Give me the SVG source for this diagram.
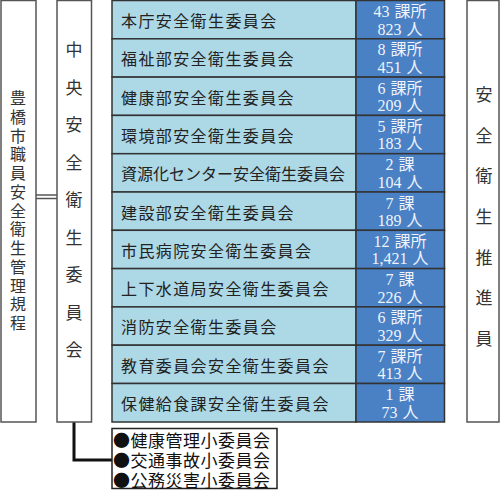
<svg xmlns="http://www.w3.org/2000/svg" width="500" height="490" viewBox="0 0 500 490">
<style>
.box{fill:#fff;stroke:#555;stroke-width:1.5}
.vt{font-family:"Noto Sans CJK JP",sans-serif;font-size:17px;fill:#333;text-anchor:middle;dominant-baseline:central}
.vs{font-size:16px}
.cl{fill:#add8e6;stroke:#333;stroke-width:1.5}
.cb{fill:#4a80c4;stroke:#333;stroke-width:1.5}
.tl{font-family:"Noto Sans CJK JP",sans-serif;font-size:16px;fill:#222;letter-spacing:1.4px;dominant-baseline:central}
.tb{font-family:"Liberation Serif","Noto Sans CJK JP",serif;font-size:16px;fill:#f0f4fa;text-anchor:middle;dominant-baseline:central;word-spacing:1px}
.sub{font-family:"Noto Sans CJK JP",sans-serif;font-size:17px;fill:#111;letter-spacing:0.5px;dominant-baseline:central}
</style>
<g id="connectors">
<line x1="36" y1="195" x2="57" y2="195" stroke="#555" stroke-width="1.5"/>
<line x1="36" y1="198.5" x2="57" y2="198.5" stroke="#555" stroke-width="1.5"/>
<polyline points="74,422 74,460 112,460" fill="none" stroke="#111" stroke-width="3"/>
</g>
<g id="regulation">
<rect class="box" x="1" y="0.5" width="35" height="421.5"/>
<text class="vt vs"><tspan x="18" y="97">豊</tspan><tspan x="18" y="115.75">橋</tspan><tspan x="18" y="134.5">市</tspan><tspan x="18" y="153.25">職</tspan><tspan x="18" y="172">員</tspan><tspan x="18" y="190.75">安</tspan><tspan x="18" y="209.5">全</tspan><tspan x="18" y="228.25">衛</tspan><tspan x="18" y="247">生</tspan><tspan x="18" y="265.75">管</tspan><tspan x="18" y="284.5">理</tspan><tspan x="18" y="303.25">規</tspan><tspan x="18" y="322">程</tspan></text>
</g>
<g id="central">
<rect class="box" x="57" y="0.5" width="34.5" height="421.5"/>
<text class="vt"><tspan x="74" y="48">中</tspan><tspan x="74" y="85.5">央</tspan><tspan x="74" y="123">安</tspan><tspan x="74" y="160.5">全</tspan><tspan x="74" y="198">衛</tspan><tspan x="74" y="235.5">生</tspan><tspan x="74" y="273">委</tspan><tspan x="74" y="310.5">員</tspan><tspan x="74" y="348">会</tspan></text>
</g>
<g id="promoters">
<rect class="box" x="467" y="0.5" width="32" height="421.5"/>
<text class="vt"><tspan x="484" y="93">安</tspan><tspan x="484" y="133.7">全</tspan><tspan x="484" y="174.3">衛</tspan><tspan x="484" y="215">生</tspan><tspan x="484" y="255.7">推</tspan><tspan x="484" y="296.3">進</tspan><tspan x="484" y="337">員</tspan></text>
</g>
<g id="r1"><rect class="cl" x="112" y="0.5" width="244" height="38.3"/><rect class="cb" x="356" y="0.5" width="88.5" height="38.3"/><text class="tl" x="121" y="20">本庁安全衛生委員会</text><text class="tb" x="400" y="11.5">43 課所</text><text class="tb" x="400" y="29">823 人</text></g>
<g id="r2"><rect class="cl" x="112" y="38.8" width="244" height="38.3"/><rect class="cb" x="356" y="38.8" width="88.5" height="38.3"/><text class="tl" x="121" y="58.3">福祉部安全衛生委員会</text><text class="tb" x="400" y="49.8">8 課所</text><text class="tb" x="400" y="67.3">451 人</text></g>
<g id="r3"><rect class="cl" x="112" y="77.1" width="244" height="38.3"/><rect class="cb" x="356" y="77.1" width="88.5" height="38.3"/><text class="tl" x="121" y="96.6">健康部安全衛生委員会</text><text class="tb" x="400" y="88.1">6 課所</text><text class="tb" x="400" y="105.6">209 人</text></g>
<g id="r4"><rect class="cl" x="112" y="115.4" width="244" height="38.3"/><rect class="cb" x="356" y="115.4" width="88.5" height="38.3"/><text class="tl" x="121" y="134.9">環境部安全衛生委員会</text><text class="tb" x="400" y="126.4">5 課所</text><text class="tb" x="400" y="143.9">183 人</text></g>
<g id="r5"><rect class="cl" x="112" y="153.7" width="244" height="38.3"/><rect class="cb" x="356" y="153.7" width="88.5" height="38.3"/><text class="tl" x="121" y="173.2" style="letter-spacing:0">資源化センター安全衛生委員会</text><text class="tb" x="400" y="164.7">2 課</text><text class="tb" x="400" y="182.2">104 人</text></g>
<g id="r6"><rect class="cl" x="112" y="192" width="244" height="38.3"/><rect class="cb" x="356" y="192" width="88.5" height="38.3"/><text class="tl" x="121" y="211.5">建設部安全衛生委員会</text><text class="tb" x="400" y="203">7 課</text><text class="tb" x="400" y="220.5">189 人</text></g>
<g id="r7"><rect class="cl" x="112" y="230.3" width="244" height="38.3"/><rect class="cb" x="356" y="230.3" width="88.5" height="38.3"/><text class="tl" x="121" y="249.8">市民病院安全衛生委員会</text><text class="tb" x="400" y="241.3">12 課所</text><text class="tb" x="400" y="258.8">1,421 人</text></g>
<g id="r8"><rect class="cl" x="112" y="268.6" width="244" height="38.3"/><rect class="cb" x="356" y="268.6" width="88.5" height="38.3"/><text class="tl" x="121" y="288.1">上下水道局安全衛生委員会</text><text class="tb" x="400" y="279.6">7 課</text><text class="tb" x="400" y="297.1">226 人</text></g>
<g id="r9"><rect class="cl" x="112" y="306.9" width="244" height="38.3"/><rect class="cb" x="356" y="306.9" width="88.5" height="38.3"/><text class="tl" x="121" y="326.4">消防安全衛生委員会</text><text class="tb" x="400" y="317.9">6 課所</text><text class="tb" x="400" y="335.4">329 人</text></g>
<g id="r10"><rect class="cl" x="112" y="345.2" width="244" height="38.3"/><rect class="cb" x="356" y="345.2" width="88.5" height="38.3"/><text class="tl" x="121" y="364.7">教育委員会安全衛生委員会</text><text class="tb" x="400" y="356.2">7 課所</text><text class="tb" x="400" y="373.7">413 人</text></g>
<g id="r11"><rect class="cl" x="112" y="383.5" width="244" height="38.5"/><rect class="cb" x="356" y="383.5" width="88.5" height="38.5"/><text class="tl" x="121" y="403">保健給食課安全衛生委員会</text><text class="tb" x="400" y="394.5">1 課</text><text class="tb" x="400" y="412">73 人</text></g>
<g id="subcommittees">
<rect x="112" y="428.5" width="165" height="60" fill="#fff" stroke="#222" stroke-width="1.5"/>
<text class="sub" x="113" y="439.5">●健康管理小委員会</text>
<text class="sub" x="113" y="459.5">●交通事故小委員会</text>
<text class="sub" x="113" y="479">●公務災害小委員会</text>
</g>
</svg>
